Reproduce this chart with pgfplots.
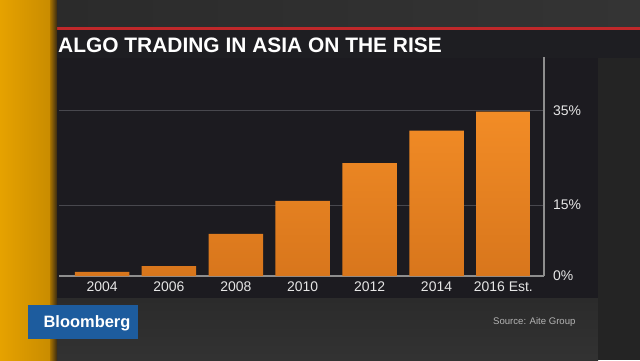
\documentclass[border=0pt]{standalone}
\usepackage{pgfplots}
\pgfplotsset{compat=1.18}
\usepackage{fontspec}
\setmainfont{Liberation Sans}
\definecolor{bgA}{HTML}{2B2B2B}
\definecolor{bgTop}{HTML}{343434}
\definecolor{panel}{HTML}{1C1B20}
\definecolor{titleband}{HTML}{1E1E22}
\definecolor{redline}{HTML}{C0282A}
\definecolor{yelL}{HTML}{E6A200}
\definecolor{yelR}{HTML}{C98C00}
\definecolor{shadL}{HTML}{A87400}
\definecolor{shadR}{HTML}{3A2A12}
\definecolor{gridc}{HTML}{48484E}
\definecolor{axisc}{HTML}{8E8E8E}
\definecolor{barT}{HTML}{F28C26}
\definecolor{barB}{HTML}{D8761C}
\definecolor{bblue}{HTML}{1D5C9E}
\definecolor{tickc}{HTML}{E6E6E6}
\definecolor{srcc}{HTML}{B4B4B4}
\definecolor{rightstrip}{HTML}{242424}
\begin{document}
\begin{tikzpicture}[x=1bp,y=1bp]
\useasboundingbox (0,0) rectangle (640,360);
% backgrounds
\fill[bgA] (0,0) rectangle (640,360);
\shade[left color=bgA, right color=bgTop] (55,333) rectangle (640,360);
\shade[top color=bgA, bottom color=bgTop!80!bgA] (55,0) rectangle (598,62);
\fill[rightstrip] (598,0) rectangle (640,302);
\fill[redline] (55,330) rectangle (640,333);
\fill[titleband] (55,302) rectangle (640,330);
\fill[panel] (57,62) rectangle (598,302);
\shade[left color=yelL, right color=yelR] (0,0) rectangle (50,360);
\shade[left color=shadL, right color=shadR] (50,0) rectangle (57,360);
% title
\node[anchor=base west, inner sep=0pt, text=white, font=\fontsize{21}{21}\selectfont\bfseries] at (58,307.7) {ALGO TRADING IN ASIA ON THE RISE};
% logo
\fill[bblue] (28,21) rectangle (138,55);
\node[anchor=base, inner sep=0pt, text=white, font=\fontsize{16.5}{16.5}\selectfont\bfseries] at (87,32.3) {Bloomberg};
% source
\node[anchor=base west, inner sep=0pt, text=srcc, font=\fontsize{9.6}{9.6}\selectfont] at (493,36) {Source: Aite Group};
\begin{axis}[
  at={(59bp,84bp)}, anchor=south west,
  scale only axis, width=485bp, height=219bp,
  xmin=-0.643, xmax=6.607, ymin=0, ymax=46.4,
  axis x line*=bottom, axis y line*=right,
  axis line style={draw=axisc, line width=1.1bp},
  major tick length=0pt,
  xtick={0,1,2,3,4,5,6},
  xticklabels={2004,2006,2008,2010,2012,2014,2016 Est.},
  ytick={0,15,35},
  yticklabels={0\%,15\%,35\%},
  ymajorgrids, major grid style={draw=gridc, line width=1.3bp},
  xticklabel style={font=\fontsize{14}{14}\selectfont, text=tickc, inner sep=0pt, anchor=north, yshift=-6bp},
  yticklabel style={font=\fontsize{14}{14}\selectfont, text=tickc, inner sep=0pt, anchor=west, xshift=9bp},
  ybar, bar width=0.815,
]
\addplot[draw=none, top color=barT, bottom color=barB] coordinates {(0,0.9) (1,2.1) (2,8.9) (3,15.9) (4,23.9) (5,30.8) (6,34.8)};
\end{axis}
\end{tikzpicture}
\end{document}
